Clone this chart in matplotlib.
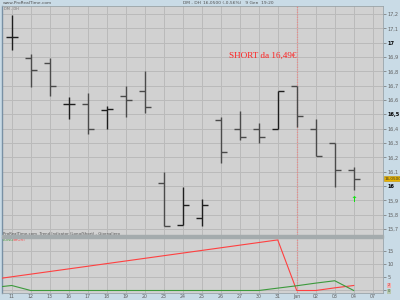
import numpy as np
import matplotlib.pyplot as plt

# ### data

days = ['11', '12', '13', '16', '17', '18', '19', '20', '23', '24',
        '25', '26', '27', '30', '31', 'Jan', '02', '03', '04', '07']
opens = [17.04, 16.89, 16.86, 16.57, 16.57, 16.53, 16.63, 16.66, 16.02, 15.73,
         15.78, 16.46, 16.40, 16.40, 16.40, 16.70, 16.40, 16.30, 16.11]
highs = [17.19, 16.92, 16.89, 16.62, 16.65, 16.56, 16.70, 16.80, 16.10, 15.99,
         15.91, 16.48, 16.52, 16.44, 16.66, 16.70, 16.47, 16.30, 16.13]
lows = [16.95, 16.69, 16.63, 16.47, 16.36, 16.40, 16.48, 16.51, 15.72, 15.73,
        15.72, 16.16, 16.32, 16.30, 16.40, 16.41, 16.21, 15.99, 15.97]
closes = [17.04, 16.81, 16.70, 16.57, 16.40, 16.54, 16.60, 16.55, 15.72, 15.87,
          15.87, 16.24, 16.34, 16.34, 16.66, 16.49, 16.21, 16.11, 16.05]

# indicator (bar -1 is the one just before the visible window)
ind_idx = list(range(-1, 19))
short_line = [4.2, 5.2, 6.2, 7.2, 8.2, 9.2, 10.2, 11.2, 12.2, 13.2,
              14.2, 15.2, 16.2, 17.2, 18.2, 19.2, 0.0, 0.0, 1.0, 1.9]
long_line = [1.1, 1.9, 0.0, 0.0, 0.0, 0.0, 0.0, 0.0, 0.0, 0.0,
             0.0, 0.0, 0.0, 0.0, 0.0, 0.9, 1.8, 2.8, 3.7, 0.0]

price_ticks = [15.7, 15.8, 15.9, 16.0, 16.1, 16.2, 16.3, 16.4,
               16.5, 16.6, 16.7, 16.8, 16.9, 17.0, 17.1, 17.2]
ind_ticks = [0, 5, 10, 15]

bg = '#c9dbe6'
panel = '#d1d1d1'
grid = '#bababa'

fig = plt.figure(figsize=(4, 3), dpi=100, facecolor=bg)
W, H = 400.0, 300.0
ax = fig.add_axes([2 / W, 1 - 235 / H, 381 / W, 229 / H], facecolor=panel)
ax2 = fig.add_axes([2 / W, 1 - 293 / H, 381 / W, 56 / H], facecolor=panel)

# separator between the two panels
fig.patches.append(plt.Rectangle((2 / W, 1 - 237.5 / H), 381 / W, 2.5 / H,
                                 transform=fig.transFigure, color='#a4abad', zorder=5))

xlim = (-0.51, 19.54)
for a in (ax, ax2):
    a.set_xlim(*xlim)
    a.set_xticks(range(len(days)))
    a.grid(True, color=grid, lw=0.7)
    a.set_axisbelow(True)
    a.yaxis.tick_right()
    a.tick_params(axis='y', length=2, width=0.5, color='#707070', pad=1.5,
                  labelsize=3.6, labelcolor='#606060')
    for s in a.spines.values():
        s.set_color('#9aa4a8')
        s.set_linewidth(0.6)
    a.spines['left'].set_color('#7890a4')
    a.spines['left'].set_linewidth(1.0)
    # pink dotted vertical line on the signal bar
    a.axvline(15, color='#e88a8a', lw=0.9, ls=(0, (1, 1)), zorder=3)

ax.set_ylim(15.658, 17.256)
ax.set_yticks(price_ticks)
ax.set_yticklabels([('%g' % t).replace('.', ',') for t in price_ticks])
for t, lab in zip(price_ticks, ax.get_yticklabels()):
    if abs(t * 2 - round(t * 2)) < 1e-6:
        lab.set_color('black')
        lab.set_fontweight('bold')
ax.tick_params(axis='x', length=0, labelbottom=False)

# OHLC bars
tick = 0.32
for i in range(len(opens)):
    col = '#1e1e1e' if closes[i] >= opens[i] else '#4a4a4a'
    ax.vlines(i, lows[i], highs[i], color=col, lw=1.0, zorder=4)
    ax.hlines(opens[i], i - tick, i, color=col, lw=1.0, zorder=4)
    ax.hlines(closes[i], i, i + tick, color=col, lw=1.0, zorder=4)

ax.text(15, 16.91, 'SHORT da 16,49€', color='#ff2020', ha='right', va='center',
        fontsize=6.6, family='Liberation Serif', zorder=6)
ax.text(18, 15.905, '↑', color='#10e010', ha='center', va='center',
        fontsize=6, fontweight='bold', zorder=6)

# last price box on the axis
ax.text(1.003, 16.05, '16,0500', transform=ax.get_yaxis_transform(), fontsize=3,
        color='#333333', va='center', ha='left', zorder=7, clip_on=False,
        bbox=dict(boxstyle='square,pad=0.15', fc='#e8b400', ec='#c09000', lw=0.4))

# indicator panel
ax2.plot(ind_idx, short_line, color='#ff4040', lw=0.8, zorder=4)
ax2.plot(ind_idx, long_line, color='#3c9a3c', lw=0.8, zorder=4)
ax2.set_ylim(-0.95, 20.3)
ax2.set_yticks(ind_ticks)
ax2.set_yticklabels(['', '5', '10', '15'])
ax2.set_xticklabels(days)
ax2.tick_params(axis='x', length=0, pad=0.8, labelsize=3.4, labelcolor='#606060')

ax2.text(1.012, 1.9, '2', transform=ax2.get_yaxis_transform(), fontsize=2.6, color='#aa3030',
         va='center', clip_on=False, bbox=dict(boxstyle='square,pad=0.2', fc='#f0b0b0', ec='none'))
ax2.text(1.012, -0.3, '0', transform=ax2.get_yaxis_transform(), fontsize=2.6, color='#306030',
         va='center', clip_on=False, bbox=dict(boxstyle='square,pad=0.2', fc='#b8c8b0', ec='none'))

# header texts
fig.text(3 / W, 1 - 3.2 / H, 'www.ProRealTime.com', fontsize=3.2, color='#505050', va='center')
fig.text(183 / W, 1 - 3.2 / H, 'DM - DH', fontsize=3.2, color='#505050', va='center')
fig.text(203 / W, 1 - 3.2 / H, '16,0500 (-0,56%)   9 Gen  19:20', fontsize=3.2,
         color='#505050', va='center')
fig.text(4 / W, 1 - 8.5 / H, 'DM - DH', fontsize=2.6, color='#707070', va='center')
fig.text(3 / W, 1 - 234 / H, 'ProRealTime.com  Trend Indicator (Long/Short) - Giornaliero',
         fontsize=2.8, color='#505050', va='center')
fig.text(3 / W, 1 - 240 / H, 'LONG', fontsize=2.8, color='#3c9a3c', va='center')
fig.text(13 / W, 1 - 240 / H, 'SHORT', fontsize=2.8, color='#ff4040', va='center')

fig.savefig('out.png', dpi=100, facecolor=bg)
